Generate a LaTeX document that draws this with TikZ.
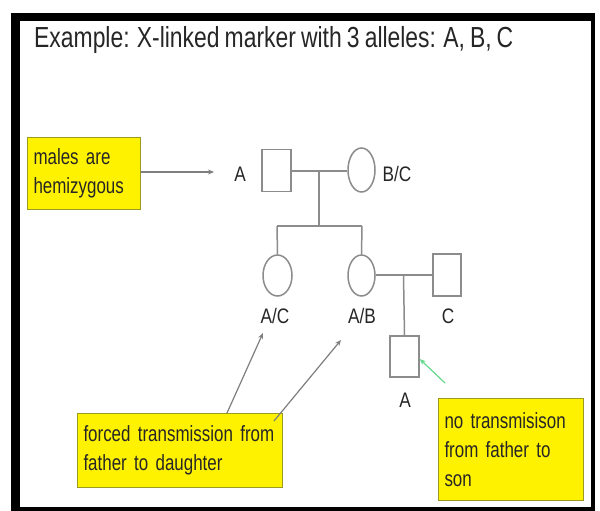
\documentclass[tikz,border=0pt]{standalone}
\usepackage{fontspec}
\setmainfont{Liberation Sans}
\newfontfamily\titlefont[FakeStretch=0.79,WordSpace=0.8]{Liberation Sans}
\newfontfamily\boxfont[FakeStretch=0.77,WordSpace=0.75]{Liberation Sans}
\newfontfamily\labfont[FakeStretch=0.82]{Liberation Sans}
\usetikzlibrary{shapes.geometric,arrows.meta}
\definecolor{pedgray}{HTML}{8C8C8C}
\definecolor{txt}{HTML}{262626}
\definecolor{boxedge}{HTML}{9A9A20}
\tikzset{
  male/.style={draw=pedgray, line width=1.5pt, fill=white, rectangle, minimum width=29pt, minimum height=42pt, inner sep=0pt},
  female/.style={draw=pedgray, line width=1.5pt, fill=white, ellipse, minimum width=28pt, minimum height=42pt, inner sep=0pt},
  pline/.style={draw=pedgray, line width=1.5pt},
  lab/.style={font=\labfont\fontsize{21}{24}\selectfont, text=txt, inner sep=0pt},
  ybox/.style={fill=yellow, draw=boxedge, line width=1pt, align=left, anchor=north west, inner xsep=6pt, inner ysep=0pt,
               font=\boxfont\fontsize{22}{29}\selectfont, text=txt},
  pointer/.style={draw=pedgray!90!black, line width=1.2pt, -{Stealth[length=6pt,width=5pt]}},
  greenptr/.style={draw=teal!50!green!60, line width=1.2pt, -{Stealth[length=6pt,width=5pt]}}
}
\begin{document}
\begin{tikzpicture}[x=1pt,y=-1pt]
\useasboundingbox (0,0) rectangle (600,511);
% frame
\fill[black] (11,13) rectangle (595,511);
\fill[white] (20,21) rectangle (591,507);
% title
\node[anchor=base west, inner sep=0pt, font=\titlefont\fontsize{29}{32}\selectfont, text=txt] (title) at (34,48)
  {Example: X-linked marker with 3 alleles: A, B, C};
% pedigree
\node[male] (sq1) at (276.5,170.5) {};
\node[female, minimum width=27pt, minimum height=44pt] (c1) at (361.5,170) {};
\coordinate (m1) at (319,171);
\coordinate (s1) at (319,226);
\coordinate (sl) at (277,226);
\coordinate (sr) at (362,226);
\node[female, minimum width=29pt, minimum height=41pt] (c2) at (277.5,275.5) {};
\node[female, minimum width=27pt, minimum height=41pt] (c3) at (361.5,275.5) {};
\node[male, minimum width=28pt] (sq3) at (447,275) {};
\coordinate (m2) at (403.5,275);
\node[male, minimum height=41pt] (sq4) at (404.5,356.5) {};
\draw[pline] (sq1.east |- m1) -- (c1.west |- m1);
\draw[pline] (m1) -- (s1);
\draw[pline] (sl) -- (sr);
\draw[pline] (sl) -- (c2.north);
\draw[pline] (sr) -- (c3.north);
\draw[pline] (c3.east |- m2) -- (sq3.west |- m2);
\draw[pline] (m2) -- (sq4.north);
% labels
\node[lab] (lA1) at (240,174) {A};
\node[lab] (lBC) at (397,174) {B/C};
\node[lab] (lAC) at (275,316) {A/C};
\node[lab] (lAB) at (362,316) {A/B};
\node[lab] (lC) at (448,316) {C};
\node[lab] (lA2) at (405,400) {A};
% yellow boxes
\node[ybox, minimum width=113pt, minimum height=72pt, text width=101pt] (b1) at (27,137) {males are\\hemizygous};
\node[ybox, minimum width=205pt, minimum height=74pt, text width=193pt] (b2) at (77,413) {forced transmission from\\father to daughter};
\node[ybox, minimum width=145pt, minimum height=102pt, text width=133pt] (b3) at (438,398) {no transmisison\\from father to\\son};
% pointers
\coordinate (e1) at (214,172);
\draw[pointer] (b1.east |- e1) -- (e1);
\coordinate (p1s) at (227,413);
\coordinate (p1e) at (263,333);
\draw[pointer] (p1s) -- (p1e);
\coordinate (p2s) at (274,421);
\coordinate (p2e) at (341,340);
\draw[pointer] (p2s) -- (p2e);
\coordinate (p3s) at (445,383);
\draw[greenptr] (p3s) -- (sq4.east |- 0,359);
\end{tikzpicture}
\end{document}
